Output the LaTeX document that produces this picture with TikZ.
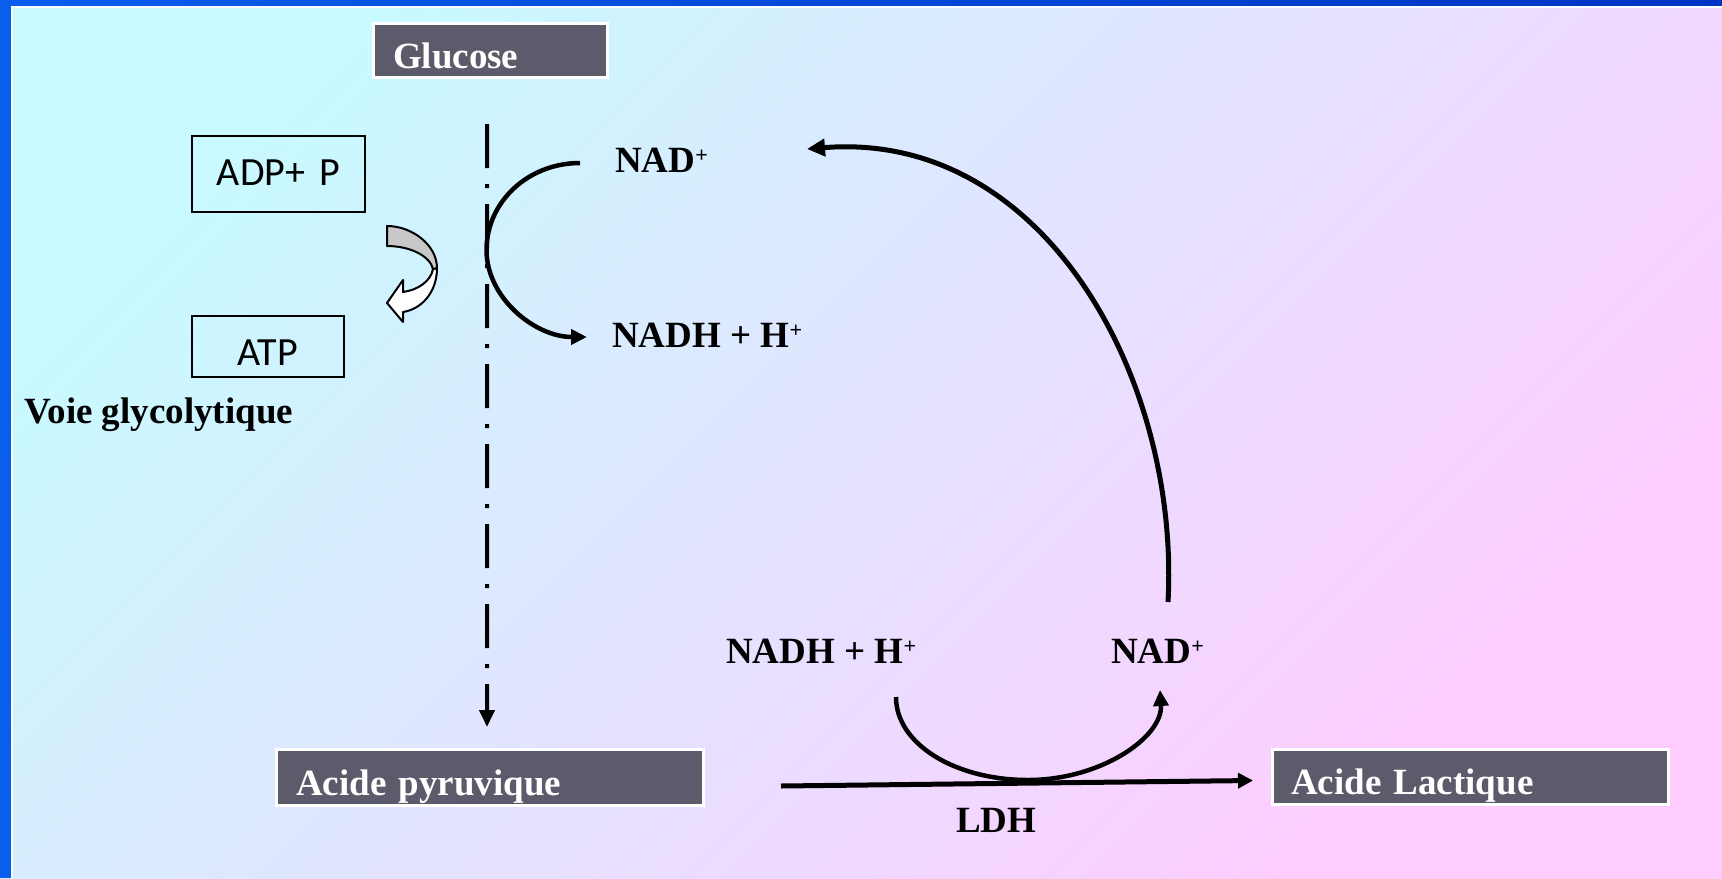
\documentclass[tikz,border=0pt]{standalone}
\usepackage{fontspec}
\setmainfont{Liberation Serif}
\newfontfamily\labelsans{Carlito}
\usetikzlibrary{arrows.meta,calc}

\definecolor{bgcyan}{HTML}{C8FAFF}
\definecolor{bgpink}{HTML}{FFCCFF}
\definecolor{boxgray}{HTML}{5B5B6B}
\definecolor{frameblue}{HTML}{0A5EEE}
\definecolor{framedark}{HTML}{0034C4}
\definecolor{backface}{HTML}{C8C8C8}

% small raised plus sign for the cofactor charges
\newcommand\plusup{\raisebox{10bp}{\fontsize{22bp}{22bp}\selectfont +}}

\begin{document}
\begin{tikzpicture}[x=1bp, y=-1bp,
  chem/.style={font=\fontsize{37bp}{40bp}\selectfont\bfseries, inner sep=0pt, anchor=base west},
  graybox/.style={draw=white, line width=3bp, fill=boxgray, text=white, outer sep=0pt,
    inner xsep=20bp, inner ysep=0pt, align=left, anchor=north west,
    font=\fontsize{37bp}{40bp}\selectfont\bfseries},
  plainbox/.style={draw=black, line width=2.5bp, outer sep=0pt, inner sep=0pt,
    anchor=north west, font=\labelsans\fontsize{40bp}{44bp}\selectfont},
  flow/.style={line width=4.5bp, -{Triangle[length=16bp,width=15bp]}},
  bigflow/.style={line width=5bp, -{Triangle[length=18bp,width=17bp]}},
  ldhflow/.style={line width=5bp, -{Triangle[length=15bp,width=15bp]}},
  glycoline/.style={line width=4bp, dash pattern=on 44bp off 16bp on 4bp off 16bp,
    -{Triangle[length=17bp,width=15bp]}},
  blockarrow/.style={draw=black, line width=2bp, line join=round},
]
\useasboundingbox (0,0) rectangle (1722,878);

% slide background and frame
\shade[top color=bgcyan, bottom color=bgpink, shading angle=45] (0,0) rectangle (1722,878);
\fill[frameblue] (0,0) rectangle (11,878);
\shade[left color=frameblue, right color=framedark] (0,0) rectangle (1722,6);
\fill[white] (11,6) rectangle (13,878);
\fill[white] (11,6) rectangle (1722,8);

% metabolites
\node[graybox, minimum width=234bp, minimum height=54bp, text width=194bp,
  text height=36bp, text depth=0bp] (glucose) at (373,23) {Glucose};
\node[graybox, minimum width=427bp, minimum height=56bp, text width=387bp,
  text height=36bp, text depth=0bp] (pyruvate) at (276,749) {Acide pyruvique};
\node[graybox, inner xsep=19bp, minimum width=396bp, minimum height=55bp, text width=358bp,
  text height=35bp, text depth=0bp] (lactate) at (1272,749) {Acide Lactique};

% energy balance
\node[plainbox, minimum width=173bp, minimum height=76bp,
  text height=26bp, text depth=4bp] (adp) at (192,136) {ADP+\hspace{5bp} P};
\node[plainbox, minimum width=152bp, minimum height=61bp,
  text height=37bp, text depth=0bp] (atp) at (192,316) {ATP};
\node[chem] (voie) at (24,423) {Voie glycolytique};

% cofactors
\node[chem] (nadtop) at (615,172) {NAD\plusup};
\node[chem] (nadhtop) at (612,347) {NADH + H\plusup};
\node[chem] (nadhbot) at (726,663) {NADH + H\plusup};
\node[chem] (nadbot) at (1111,663) {NAD\plusup};
\node[chem] (ldh) at (956,832) {LDH};

% curved block arrow ADP -> ATP (white front face, grey back face)
\path[blockarrow, fill=white]
  (437,268) .. controls (437,292) and (422,309) .. (403,312)
  -- (403,322) -- (387,303) -- (403,280) -- (403,292)
  .. controls (418,290) and (431,281) .. (433,269) -- cycle;
\path[blockarrow, fill=backface]
  (387,226) .. controls (412,226) and (437,245) .. (437,268)
  -- (433,269) .. controls (430,256) and (410,246) .. (387,246) -- cycle;

% glycolysis: glucose -> pyruvate
\draw[glycoline] ($(glucose.south)+(-3,47)$) -- ($(pyruvate.north)+(-2.5,-22)$);

% NAD+ reduced during glycolysis
\coordinate (g1) at ($(nadtop.base west)+(-35,-9)$);
\coordinate (g2) at ($(nadhtop.base west)+(-25,-10)$);
\coordinate (gmid) at ($(g1)!0.5!(g2)+(-97,0)$);
\draw[flow] (g1) .. controls +(-52,0) and +(0,-48) .. (gmid)
  .. controls +(0,48) and +(-52,0) .. (g2);

% pyruvate -> lactate (LDH)
\draw[ldhflow] ($(pyruvate.east)+(78,9)$) -- ($(lactate.west)+(-19,4)$);

% NADH + H+ reoxidised by LDH
\coordinate (b1) at ($(nadhbot.base west)+(170,34)$);
\coordinate (b2) at ($(nadbot.base west)+(49,27)$);
\coordinate (bmid) at ($(b1)!0.5!(b2)+(0,86.5)$);
\draw[flow] (b1) .. controls +(0,47) and +(-73,0) .. (bmid)
  .. controls +(73,0) and +(3,47) .. (b2);

% NAD+ recycled back to glycolysis
\coordinate (r1) at ($(nadbot.base west)+(57,-61)$);
\coordinate (r2) at ($(nadtop.base west)+(192,-23)$);
\draw[bigflow] (r1) .. controls +(12,-222) and +(238,-19) .. (r2);
\end{tikzpicture}
\end{document}
